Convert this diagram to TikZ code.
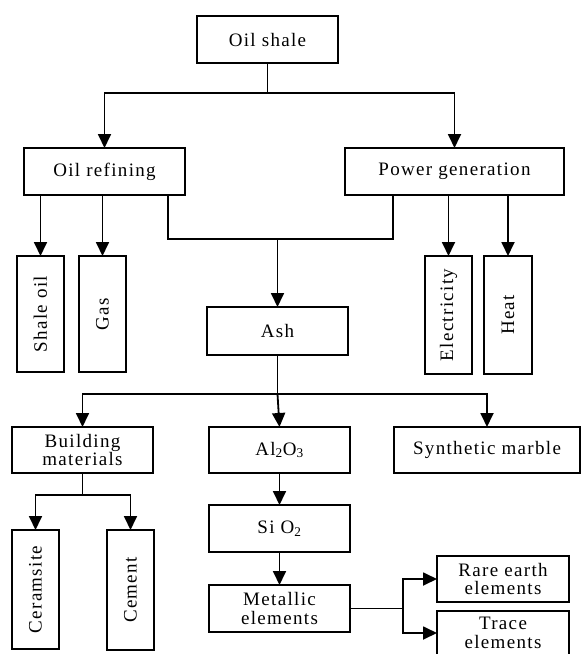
\documentclass[tikz,border=0pt]{standalone}
\usepackage{fontspec}
\setmainfont{Liberation Serif}[LetterSpace=7]
\usepackage{tikz}
\usetikzlibrary{arrows.meta, positioning}

\tikzset{
	box/.style={draw, line width=2.1pt, inner sep=0pt, outer sep=0pt, align=center,
		font=\fontsize{19}{18.5}\selectfont},
	vbox/.style={box, rotate=90},
	conn/.style={line width=1.8pt},
	arr/.style={conn, -{Triangle[length=14pt,width=13pt]}}
}

\begin{document}
\begin{tikzpicture}[x=1pt, y=-1pt]
	
	% Frame
	\useasboundingbox (0,0) rectangle (581,654);
	\clip (0,0) rectangle (581,654);
	
	% Boxes
	\node[box, minimum width=141, minimum height=47] (oilshale) at (267.5,39.5) {Oil shale};
	\node[box, minimum width=161, minimum height=47] (refining) at (104.5,171.5) {Oil refining};
	\node[box, minimum width=219, minimum height=47] (power) at (454.5,171.5) {Power generation};
	\node[vbox, minimum width=116, minimum height=47] (shaleoil) at (40.5,314) {Shale oil};
	\node[vbox, minimum width=116, minimum height=47] (gas) at (102.5,314) {Gas};
	\node[vbox, minimum width=118, minimum height=47] (elec) at (448.5,315) {Electricity};
	\node[vbox, minimum width=118, minimum height=48] (heat) at (508,315) {Heat};
	\node[box, minimum width=141, minimum height=48] (ash) at (277.5,331) {Ash};
	\node[box, minimum width=141, minimum height=46] (building) at (82.5,450) {Building\\materials};
	\node[box, minimum width=141, minimum height=46] (alo) at (279.5,450) {Al\textsubscript{2}O\textsubscript{3}};
	\node[box, minimum width=186, minimum height=46] (marble) at (487,450) {Synthetic marble};
	\node[vbox, minimum width=119, minimum height=47] (ceramsite) at (35.5,589.5) {Ceramsite};
	\node[vbox, minimum width=120, minimum height=47] (cement) at (130.5,590) {Cement};
	\node[box, minimum width=141, minimum height=47] (sio) at (279.5,528.5) {Si O\textsubscript{2}};
	\node[box, minimum width=141, minimum height=47] (metal) at (279.5,608.5) {Metallic\\elements};
	\node[box, minimum width=132, minimum height=46] (rare) at (503,579) {Rare earth\\elements};
	\node[box, minimum width=132, minimum height=44] (trace) at (503,633) {Trace\\elements};
	
	% Split points
	\coordinate (split1) at (267.5,93);
	\coordinate (r1) at (40.5,195);
	\coordinate (r2) at (102.5,195);
	\coordinate (r3) at (168,195);
	\coordinate (p1) at (393,195);
	\coordinate (p2) at (448.5,195);
	\coordinate (p3) at (508,195);
	\coordinate (ashin) at (277.5,239);
	\coordinate (split2) at (277.5,394);
	\coordinate (split3) at (82.5,495);
	\coordinate (split4) at (403,608.5);
	
	% Connectors
	\draw[conn] (oilshale.south) -- (split1);
	\foreach \n in {refining, power} {
		\draw[arr] (split1) -| (\n.north);
	}
	\draw[arr] (r1) -- (shaleoil);
	\draw[arr] (r2) -- (gas);
	\draw[arr] (p2) -- (elec);
	\draw[arr] (p3) -- (heat);
	\draw[conn] (r3) |- (ashin) -| (p1);
	\draw[arr] (ashin) -- (ash.north);
	\draw[conn] (ash.south) -- (split2);
	\draw[arr] (split2) -| (building.north);
	\draw[arr] (split2) -- (alo.north);
	\draw[arr] (split2) -| (marble.north);
	\draw[conn] (building.south) -- (split3);
	\draw[arr] (split3) -| (ceramsite);
	\draw[arr] (split3) -| (cement);
	\draw[arr] (alo) -- (sio);
	\draw[arr] (sio) -- (metal);
	\draw[conn] (metal.east) -- (split4);
	\draw[arr] (split4) |- (rare.west);
	\draw[arr] (split4) |- (trace.west);
\end{tikzpicture}
\end{document}
